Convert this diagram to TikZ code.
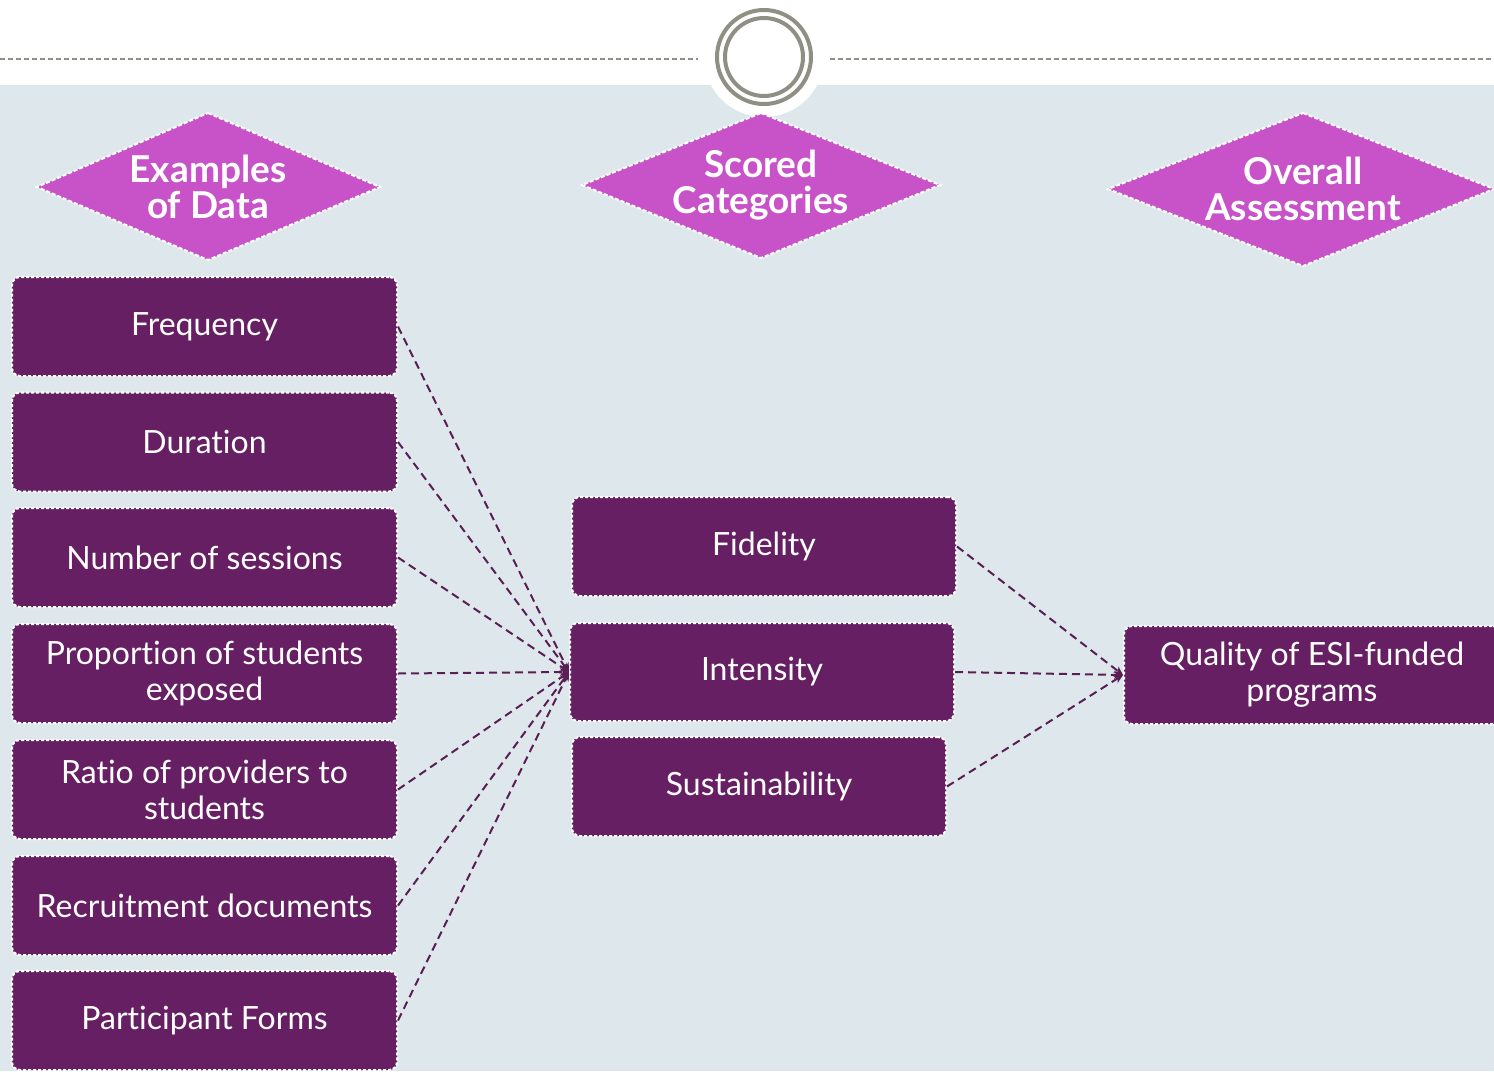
\documentclass[tikz,border=0pt]{standalone}
\usepackage{fontspec}
\setmainfont{Lato}[Ligatures={NoCommon}]
\usetikzlibrary{shapes.geometric,arrows.meta}
\definecolor{bgblue}{RGB}{222,232,236}
\definecolor{boxpurple}{RGB}{103,31,99}
\definecolor{dmagenta}{RGB}{200,82,200}
\definecolor{ringgray}{RGB}{143,143,132}
\definecolor{linepurple}{RGB}{90,30,85}
\tikzset{
  box/.style={draw=white, line width=2pt, dash pattern=on 3pt off 2pt, fill=boxpurple,
    rounded corners=8pt, text=white, align=center, inner sep=0pt,
    font=\fontsize{32}{36}\selectfont},
  diapath/.style={draw=white, line width=2pt, dash pattern=on 4pt off 2pt, fill=dmagenta},
  dia/.style={text=white, align=center, inner sep=0pt,
    font=\fontsize{37}{36}\selectfont\bfseries},
  conn/.style={draw=linepurple, line width=2pt, dash pattern=on 8pt off 5pt,
    -{Stealth[length=9pt,width=8pt]}}
}
\begin{document}
\begin{tikzpicture}[x=1pt,y=-1pt]
\useasboundingbox (0,0) rectangle (1494,1071);
\clip (0,0) rectangle (1494,1071);
\fill[white] (0,0) rectangle (1494,1071);
\fill[bgblue] (0,85) rectangle (1494,1071);
\fill[white] (764,57) circle[radius=60];
\draw[ringgray, line width=1.5pt, dash pattern=on 5pt off 3pt] (0,59) -- (698,59);
\draw[ringgray, line width=1.5pt, dash pattern=on 5pt off 3pt] (830,59) -- (1494,59);
\draw[ringgray, line width=4pt] (764,57) circle[radius=47];
\draw[ringgray, line width=4pt] (764,57) circle[radius=39];

\path[diapath] (208,113) -- (380,187) -- (208,260) -- (37,187) -- cycle;
\path[diapath] (761,113) -- (940,185) -- (761,258) -- (582,185) -- cycle;
\path[diapath] (1303,113) -- (1494,189) -- (1303,266) -- (1108,189) -- cycle;
\node[dia] (d1) at (208,187) {Examples\\of Data};
\node[dia] (d2) at (761,185) {Scored\\Categories};
\node[dia] (d3) at (1303,189) {Overall\\Assessment};

\node[box, minimum width=385pt, minimum height=99pt] (l1) at (204.5,326.5) {Frequency};
\node[box, minimum width=385pt, minimum height=99pt] (l2) at (204.5,442) {Duration};
\node[box, minimum width=385pt, minimum height=99pt] (l3) at (204.5,557.5) {Number of sessions};
\node[box, minimum width=385pt, minimum height=99pt] (l4) at (204.5,673.5) {Proportion of students\\exposed};
\node[box, minimum width=385pt, minimum height=99pt] (l5) at (204.5,789.5) {Ratio of providers to\\students};
\node[box, minimum width=385pt, minimum height=99pt] (l6) at (204.5,905.5) {Recruitment documents};
\node[box, minimum width=385pt, minimum height=99pt] (l7) at (204.5,1020.5) {Participant Forms};

\node[box, minimum width=384pt, minimum height=99pt] (m1) at (764,546.5) {Fidelity};
\node[box, minimum width=384pt, minimum height=98pt] (m2) at (762,672) {Intensity};
\node[box, minimum width=374pt, minimum height=99pt] (m3) at (759,786.5) {Sustainability};

\node[box, minimum width=376pt, minimum height=98pt] (q) at (1312,675) {Quality of ESI-funded\\programs};

\foreach \n in {l1,l2,l3,l4,l5,l6,l7} \draw[conn] (\n.east) -- (m2.west);
\foreach \n in {m1,m2,m3} \draw[conn] (\n.east) -- (q.west);
\end{tikzpicture}
\end{document}
